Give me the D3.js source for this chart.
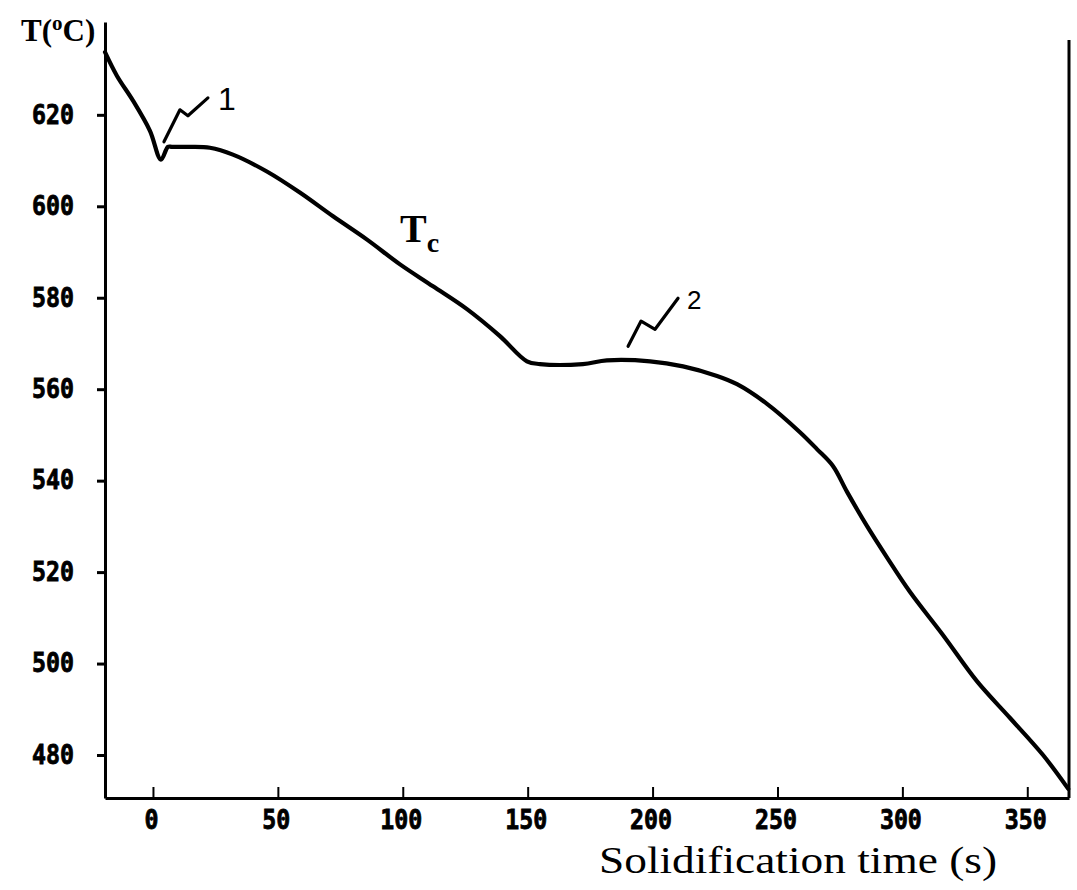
<!DOCTYPE html>
<html>
<head>
<meta charset="utf-8">
<script src="https://cdn.jsdelivr.net/npm/d3@7"></script>
<style>
  body { margin: 0; background: #fff; }
  svg { display: block; }
</style>
</head>
<body>
<svg id="chart" width="1077" height="890"></svg>
<script>
// Cooling curve: temperature (°C) against solidification time (s)
const timeS = [-19.2, -14.4, -8.0, -1.2, 3.2, 6.0, 7.6, 14.8, 22.8, 32.0, 45.6, 58.8, 72.1, 85.7, 98.9,
  112.1, 125.7, 138.9, 149.7, 154.9, 172.1, 181.7, 199.0, 212.2, 225.8, 233.8, 245.8, 259.0,
  265.8, 272.2, 277.8, 285.8, 294.2, 303.0, 316.3, 329.9, 343.1, 356.3, 366.4];
const tempC = [633.7, 628.5, 623.1, 616.5, 610.2, 613.0, 613.0, 613.0, 612.8, 611.3, 607.6, 603.0, 597.8,
  592.7, 587.3, 582.5, 577.5, 571.6, 566.1, 565.5, 565.5, 566.3, 566.1, 565.0, 562.9, 561.1,
  556.8, 550.6, 546.9, 543.2, 537.6, 530.1, 522.9, 515.7, 506.2, 496.1, 488.1, 480.0, 472.6];

const xTickValues = [0, 50, 100, 150, 200, 250, 300, 350];
const yTickValues = [480, 500, 520, 540, 560, 580, 600, 620];

// Pointer marks for the two arrests on the curve
const arrest1Time = [4.4, 10.8, 14.0, 22.0];
const arrest1Temp = [614.1, 621.1, 619.8, 623.7];
const arrest2Time = [190.2, 195.4, 201.0, 210.2];
const arrest2Temp = [569.4, 574.9, 573.1, 579.9];
const markLabels = ["1", "2"];
const markLabelTime = [26.0, 213.8];
const markLabelTemp = [621.1, 577.5];

const xDomain = [-19.2, 366.7];
const yDomain = [470.6, 640.3];

const plotLeft = 105, plotRight = 1069, plotTop = 22, plotBottom = 798;

const svg = d3.select("#chart");
const x = d3.scaleLinear().domain(xDomain).range([plotLeft, plotRight]);
const y = d3.scaleLinear().domain(yDomain).range([plotBottom, plotTop]);

const tickFont = "'DejaVu Sans Mono', monospace";

function styleTickText(sel) {
  sel.attr("font-family", tickFont).attr("font-weight", "bold").attr("font-size", 26)
    .attr("fill", "#000").attr("stroke", "#000").attr("stroke-width", 0.8)
    .each(function (d) {
      const n = String(d).length;
      d3.select(this).attr("textLength", 14 * n).attr("lengthAdjust", "spacingAndGlyphs");
    });
}

// Y axis
const yAxis = svg.append("g")
  .attr("transform", `translate(${plotLeft},0)`)
  .call(d3.axisLeft(y).tickValues(yTickValues).tickFormat(d3.format("d"))
    .tickSizeInner(8).tickSizeOuter(0).tickPadding(23));
yAxis.select(".domain").attr("stroke", "#000").attr("stroke-width", 3);
yAxis.selectAll(".tick line").attr("stroke", "#000").attr("stroke-width", 3);
yAxis.selectAll(".tick text").call(styleTickText);

// X axis (ticks point inward)
const xAxis = svg.append("g")
  .attr("transform", `translate(0,${plotBottom})`)
  .call(d3.axisBottom(x).tickValues(xTickValues).tickFormat(d3.format("d"))
    .tickSizeInner(-11).tickSizeOuter(0).tickPadding(13));
xAxis.select(".domain").attr("stroke", "#000").attr("stroke-width", 3);
xAxis.selectAll(".tick line").attr("stroke", "#000").attr("stroke-width", 2);
xAxis.selectAll(".tick text").call(styleTickText).attr("dx", -2);

// Right frame line
svg.append("line")
  .attr("x1", plotRight).attr("x2", plotRight)
  .attr("y1", plotTop + 18).attr("y2", plotBottom)
  .attr("stroke", "#000").attr("stroke-width", 3);

// Cooling curve
const line = d3.line()
  .x((d, i) => x(timeS[i]))
  .y((d, i) => y(tempC[i]))
  .curve(d3.curveCatmullRom.alpha(0.5));
svg.append("path")
  .datum(timeS)
  .attr("d", line)
  .attr("fill", "none")
  .attr("stroke", "#000")
  .attr("stroke-width", 4.2)
  .attr("stroke-linejoin", "round")
  .attr("stroke-linecap", "round");

// Arrest pointers
const pointer = (ts, vs) => d3.line()
  .x((d, i) => x(ts[i]))
  .y((d, i) => y(vs[i]))
  .curve(d3.curveLinear)(ts);
[[arrest1Time, arrest1Temp], [arrest2Time, arrest2Temp]].forEach(([ts, vs]) => {
  svg.append("path")
    .attr("d", pointer(ts, vs))
    .attr("fill", "none")
    .attr("stroke", "#000")
    .attr("stroke-width", 3.2)
    .attr("stroke-linejoin", "round")
    .attr("stroke-linecap", "round");
});
svg.selectAll("text.mark")
  .data(markLabels)
  .join("text")
  .attr("class", "mark")
  .attr("x", (d, i) => x(markLabelTime[i]))
  .attr("y", (d, i) => y(markLabelTemp[i]))
  .attr("font-family", "'Liberation Sans', Arial, sans-serif")
  .attr("font-size", (d, i) => i === 0 ? 32 : 26)
  .attr("fill", "#000")
  .text(d => d);

// Tc label
const tc = svg.append("text")
  .attr("x", x(98.9)).attr("y", y(592.1))
  .attr("font-family", "'Liberation Serif', 'Times New Roman', serif")
  .attr("font-weight", "bold")
  .attr("font-size", 40)
  .attr("fill", "#000");
tc.append("tspan").text("T");
tc.append("tspan").attr("font-size", 28).attr("dy", 10).text("c");

// Y axis title
const yt = svg.append("text")
  .attr("x", 21).attr("y", 41)
  .attr("font-family", "'Liberation Serif', 'Times New Roman', serif")
  .attr("font-weight", "bold")
  .attr("font-size", 31)
  .attr("fill", "#000");
yt.append("tspan").text("T(");
yt.append("tspan").attr("font-size", 21).attr("dy", -11).text("o");
yt.append("tspan").attr("dy", 11).text("C)");

// X axis title
svg.append("text")
  .attr("x", 599).attr("y", 873)
  .attr("font-family", "'Liberation Serif', 'Times New Roman', serif")
  .attr("font-size", 38)
  .attr("fill", "#000")
  .attr("textLength", 398).attr("lengthAdjust", "spacingAndGlyphs")
  .text("Solidification time (s)");
</script>
</body>
</html>
